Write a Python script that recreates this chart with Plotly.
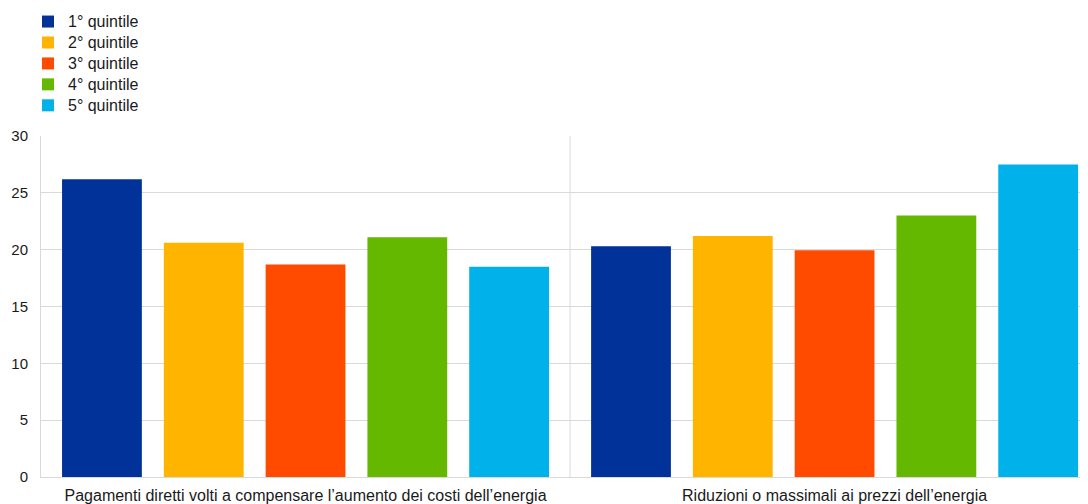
import plotly.graph_objects as go

categories = [
    "Pagamenti diretti volti a compensare l’aumento dei costi dell’energia",
    "Riduzioni o massimali ai prezzi dell’energia",
]
series_names = ["1° quintile", "2° quintile", "3° quintile", "4° quintile", "5° quintile"]
q1 = [26.2, 20.3]
q2 = [20.6, 21.2]
q3 = [18.7, 19.95]
q4 = [21.1, 23.0]
q5 = [18.5, 27.5]
series_values = [q1, q2, q3, q4, q5]
colors = ["#003299", "#FFB400", "#FF4B00", "#65B800", "#00B1EA"]
y_ticks = [0, 5, 10, 15, 20, 25, 30]

fig = go.Figure()
for name, vals, col in zip(series_names, series_values, colors):
    fig.add_trace(go.Bar(
        name=f"<span style='font-size:16px'>{name}</span>",
        x=categories, y=vals,
        marker=dict(color=col, line=dict(width=0)),
    ))

grid = "#d9d9d9"
# page body has an 8px margin, so the figure is sized/offset to compensate
fig.update_layout(
    width=1080,
    height=496,
    margin=dict(l=33, r=0, t=128, b=27, autoexpand=False),
    paper_bgcolor="white",
    plot_bgcolor="white",
    font=dict(family="Liberation Sans, Arial, sans-serif", size=15, color="#1a1a1a"),
    barmode="group",
    bargap=0.038,
    bargroupgap=0.216,
    showlegend=True,
    legend=dict(
        orientation="v",
        xref="container", yref="paper",
        x=0.0185, y=1.381, xanchor="left", yanchor="top",
        font=dict(size=13.8),
        itemsizing="constant",
        tracegroupgap=0,
        bgcolor="rgba(0,0,0,0)",
    ),
    xaxis=dict(
        type="category",
        range=[-0.5, 1.479],
        showgrid=False,
        showline=True,
        linecolor=grid,
        linewidth=1,
        ticks="",
        ticklabelstandoff=4,
        tickfont=dict(size=16),
        automargin=False,
        fixedrange=True,
    ),
    yaxis=dict(
        range=[0, 30],
        tickvals=y_ticks,
        showgrid=True,
        gridcolor=grid,
        gridwidth=1,
        showline=True,
        linecolor=grid,
        linewidth=1,
        zeroline=False,
        ticks="",
        ticklabelstandoff=9,
        tickfont=dict(size=15),
        automargin=False,
        fixedrange=True,
    ),
    shapes=[
        dict(type="line", xref="x", yref="y", x0=0.5, x1=0.5, y0=0, y1=30,
             line=dict(color=grid, width=1), layer="below"),
    ],
)

fig.write_html("out.html")
